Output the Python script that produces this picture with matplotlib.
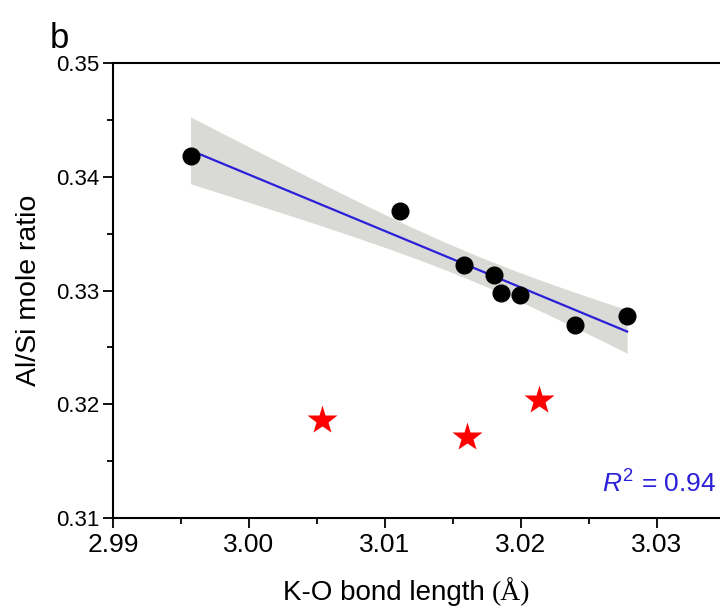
import numpy as np
import matplotlib.pyplot as plt

plt.rcParams['font.family'] = ['Liberation Sans', 'DejaVu Sans']
plt.rcParams['mathtext.fontset'] = 'custom'
plt.rcParams['mathtext.rm'] = 'Liberation Sans'
plt.rcParams['mathtext.it'] = 'Liberation Sans:italic'

# K-O bond length vs Al/Si ratio (fitted samples)
bond_len = [2.9957, 3.0111, 3.0158, 3.0180, 3.0185, 3.0199, 3.0240, 3.0278]
al_si = [0.3418, 0.3370, 0.3322, 0.3314, 0.3298, 0.3296, 0.3270, 0.3278]

# samples left out of the fit
star_len = [3.0054, 3.0160, 3.0213]
star_al_si = [0.3186, 0.3171, 0.3204]

r2_label = "0.94"

x = np.array(bond_len)
y = np.array(al_si)
n = len(x)
slope, icept = np.polyfit(x, y, 1)
resid = y - (slope * x + icept)
s_err = np.sqrt(np.sum(resid ** 2) / (n - 2))
xs = np.linspace(x.min(), x.max(), 200)
ys = slope * xs + icept
t_val = 2.447  # t(0.975, 6)
ci = t_val * s_err * np.sqrt(1 / n + (xs - x.mean()) ** 2 / np.sum((x - x.mean()) ** 2))

fig = plt.figure(figsize=(7.2, 6.11), dpi=100)
ax = fig.add_axes([0.157, 0.152, 0.85, 0.745])

ax.fill_between(xs, ys - ci, ys + ci, color='#c9c9c4', alpha=0.7, lw=0, zorder=1)
ax.plot(xs, ys, color='#2b1fd8', lw=1.6, zorder=2)
ax.plot(x, y, 'o', color='black', ms=12, zorder=3)
ax.plot(star_len, star_al_si, '*', color='#ff0000', ms=22, mec='none', zorder=3)

ax.set_xlim(2.99, 3.035)
ax.set_ylim(0.31, 0.35)
ax.set_xticks([2.99, 3.00, 3.01, 3.02, 3.03])
ax.set_xticks(np.arange(2.995, 3.035, 0.01), minor=True)
ax.set_yticks([0.31, 0.32, 0.33, 0.34, 0.35])
ax.set_yticks([0.315, 0.325, 0.335, 0.345], minor=True)
ax.set_xticklabels(['2.99', '3.00', '3.01', '3.02', '3.03'])
ax.set_yticklabels(['0.31', '0.32', '0.33', '0.34', '0.35'])

for side in ['left', 'bottom', 'top', 'right']:
    ax.spines[side].set_linewidth(1.5)
ax.tick_params(axis='both', which='major', direction='out', length=7, width=1.3)
ax.tick_params(axis='both', which='minor', direction='out', length=4, width=1.3)
ax.tick_params(axis='x', labelsize=19, pad=4)
ax.tick_params(axis='y', labelsize=16, pad=3)

ax.set_ylabel('Al/Si mole ratio', fontsize=20.5, labelpad=10)

# x label: sans text followed by serif unit
t1 = fig.text(283 / 720, 1 - 600 / 611, 'K-O bond length', fontsize=20,
              ha='left', va='baseline')
ax.annotate('(Å)', xy=(1, 0), xycoords=t1, xytext=(5, 0),
            textcoords='offset points', fontsize=20, family='Liberation Serif',
            ha='left', va='bottom')

ax.text(0.985, 0.045, r'$R^2$ = ' + r2_label, transform=ax.transAxes,
        color='#2b1fd8', fontsize=19, ha='right', va='bottom')

fig.text(50 / 720, 1 - 48 / 611, 'b', fontsize=25, ha='left', va='baseline')

fig.savefig('out.png', dpi=100)
